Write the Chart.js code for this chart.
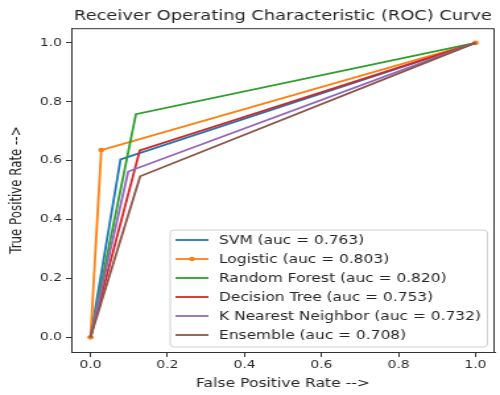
<!DOCTYPE html>
<html>
<head>
<meta charset="utf-8">
<script src="https://cdn.jsdelivr.net/npm/chart.js@4.4.1/dist/chart.umd.min.js"></script>
<style>
  html, body { margin: 0; padding: 0; background: #fff; }
  /* the reference picture is stretched sideways, so the canvas is too */
  #roc { display: block; width: 500px !important; height: 395px !important; }
</style>
</head>
<body>
<canvas id="roc" width="379" height="395"></canvas>
<script>
// --- data ---
const modelNames = ['SVM', 'Logistic', 'Random Forest', 'Decision Tree', 'K Nearest Neighbor', 'Ensemble'];
const aucValues  = ['0.763', '0.803', '0.820', '0.753', '0.732', '0.708'];
const svmFpr      = [0, 0.078, 1];  const svmTpr      = [0, 0.604, 1];
const logisticFpr = [0, 0.028, 1];  const logisticTpr = [0, 0.636, 1];
const forestFpr   = [0, 0.118, 1];  const forestTpr   = [0, 0.758, 1];
const treeFpr     = [0, 0.128, 1];  const treeTpr     = [0, 0.635, 1];
const knnFpr      = [0, 0.098, 1];  const knnTpr      = [0, 0.563, 1];
const ensembleFpr = [0, 0.129, 1];  const ensembleTpr = [0, 0.547, 1];
const tickValues  = [0, 0.2, 0.4, 0.6, 0.8, 1.0];

const colors = ['#1f77b4', '#ff7f0e', '#2ca02c', '#d62728', '#9467bd', '#8c564b'];
const fprs   = [svmFpr, logisticFpr, forestFpr, treeFpr, knnFpr, ensembleFpr];
const tprs   = [svmTpr, logisticTpr, forestTpr, treeTpr, knnTpr, ensembleTpr];
const legendLabels = modelNames.map((n, i) => `${n} (auc = ${aucValues[i]})`);

const FONT = '"DejaVu Sans", "Liberation Sans", sans-serif';
const TEXT = '#262626';

const datasets = modelNames.map((name, i) => ({
  label: legendLabels[i],
  data: fprs[i].map((x, k) => ({ x, y: tprs[i][k] })),
  showLine: true,
  borderColor: colors[i],
  backgroundColor: colors[i],
  borderWidth: 1.8,
  pointRadius: name === 'Logistic' ? 2.4 : 0,
  pointBorderWidth: 0,
  order: modelNames.length - i   // later lines on top, like matplotlib
}));

// box around the plot area (top + right edges too)
const frame = {
  id: 'frame',
  afterDraw(chart) {
    const { ctx, chartArea: a } = chart;
    ctx.save();
    ctx.strokeStyle = '#333';
    ctx.lineWidth = 1;
    ctx.strokeRect(a.left + 0.5, a.top + 0.5, a.right - a.left - 1, a.bottom - a.top);
    ctx.restore();
  }
};

// matplotlib-like legend in the lower right corner
const legendBox = {
  id: 'legendBox',
  afterDatasetsDraw(chart) {
    const { ctx, chartArea: a } = chart;
    ctx.save();
    ctx.font = `11.7px ${FONT}`;
    const textW = Math.max(...legendLabels.map(t => ctx.measureText(t).width));
    const rowH = 19, lineLen = 25;
    const w = 4 + lineLen + 8 + textW + 5;
    const h = rowH * legendLabels.length + 3;
    const x = a.right - 5.5 - w;
    const y = a.bottom - 5 - h;

    ctx.beginPath();
    if (ctx.roundRect) ctx.roundRect(x, y, w, h, 3); else ctx.rect(x, y, w, h);
    ctx.fillStyle = 'rgba(255,255,255,0.85)';
    ctx.fill();
    ctx.strokeStyle = '#d0d0d0';
    ctx.lineWidth = 1;
    ctx.stroke();

    legendLabels.forEach((label, i) => {
      const cy = y + 10 + i * rowH;
      ctx.strokeStyle = colors[i];
      ctx.lineWidth = 1.8;
      ctx.beginPath();
      ctx.moveTo(x + 4, cy);
      ctx.lineTo(x + 4 + lineLen, cy);
      ctx.stroke();
      if (modelNames[i] === 'Logistic') {
        ctx.fillStyle = colors[i];
        ctx.beginPath();
        ctx.arc(x + 4 + lineLen / 2, cy, 2.2, 0, Math.PI * 2);
        ctx.fill();
      }
      ctx.fillStyle = TEXT;
      ctx.textBaseline = 'middle';
      ctx.fillText(label, x + 4 + lineLen + 8, cy + 1);
    });
    ctx.restore();
  }
};

const setTicks = scale => { scale.ticks = tickValues.map(v => ({ value: v })); };

new Chart(document.getElementById('roc'), {
  type: 'scatter',
  data: { datasets },
  plugins: [frame, legendBox],
  options: {
    responsive: false,
    animation: false,
    layout: { padding: { left: 0, right: 1, top: 0, bottom: 0 } },
    plugins: {
      legend: { display: false },
      tooltip: { enabled: false },
      title: {
        display: true,
        text: 'Receiver Operating Characteristic (ROC) Curve',
        fullSize: false,
        color: TEXT,
        font: { family: FONT, size: 13.5, weight: 'normal' },
        padding: { top: 8, bottom: 4 }
      }
    },
    scales: {
      x: {
        type: 'linear',
        min: -0.05, max: 1.05,
        afterBuildTicks: setTicks,
        afterFit: s => { s.height = 43; },
        grid: { drawOnChartArea: false, drawTicks: true, tickLength: 5, color: '#333' },
        border: { display: true, color: '#333', width: 1 },
        ticks: { color: TEXT, padding: 2, font: { family: FONT, size: 10.5 }, callback: v => v.toFixed(1), maxRotation: 0 },
        title: { display: true, text: 'False Positive Rate -->', color: TEXT, font: { family: FONT, size: 11.8 }, padding: { top: 0, bottom: 4 } }
      },
      y: {
        type: 'linear',
        min: -0.05, max: 1.05,
        afterBuildTicks: setTicks,
        afterFit: s => { s.width = 54; },
        grid: { drawOnChartArea: false, drawTicks: true, tickLength: 4, color: '#333' },
        border: { display: true, color: '#333', width: 1 },
        ticks: { color: TEXT, padding: 3, font: { family: FONT, size: 10.5 }, callback: v => v.toFixed(1) },
        title: { display: true, text: 'True Positive Rate -->', color: TEXT, font: { family: FONT, size: 11.8 }, padding: { top: 6, bottom: 0 } }
      }
    }
  }
});
</script>
</body>
</html>
